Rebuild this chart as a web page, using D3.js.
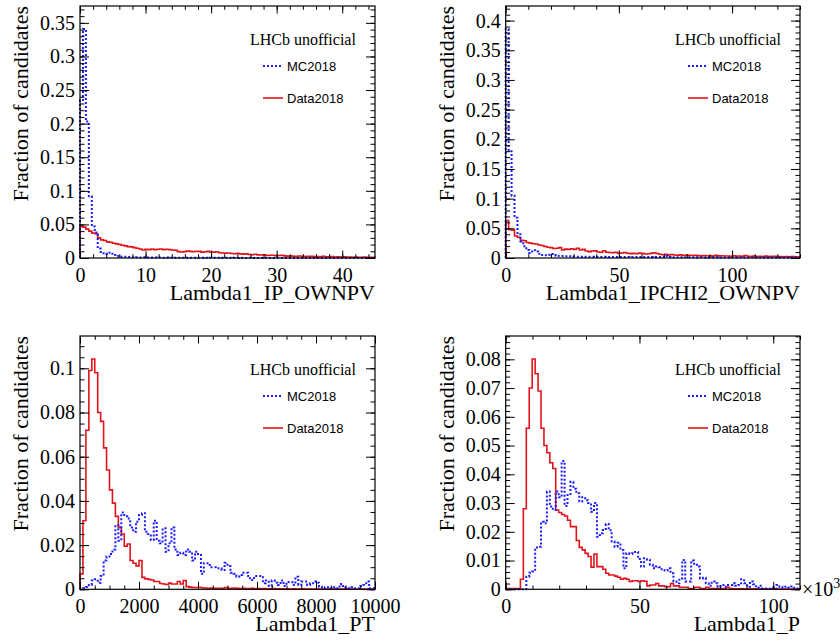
<!DOCTYPE html>
<html>
<head>
<meta charset="utf-8">
<script src="https://cdn.jsdelivr.net/npm/d3@7"></script>
<style>
  body { margin: 0; background: #fff; }
  svg { display: block; }
</style>
</head>
<body>
<svg id="chart" width="840" height="642"></svg>
<script>
// Normalised histograms (fraction of candidates per bin), 100 bins each.
const ipMC = [
  0.235, 0.341, 0.203, 0.092, 0.047, 0.038, 0.014, 0.009, 0.007, 0.006,
  0.008, 0.0045, 0.003, 0.002, 0.002, 0.0018, 0.0015, 0.0012, 0.001, 0.0012,
  0.0009, 0.001, 0.0008, 0.0009, 0.0007, 0.0008, 0.0006, 0.0007, 0.0005, 0.0006,
  0.0005, 0.0004, 0.0005, 0.0004, 0.0004, 0.0003, 0.0004, 0.0003, 0.0003, 0.0004,
  0.0003, 0.0002, 0.0003, 0.0002, 0.0003, 0.0002, 0.0002, 0.0003, 0.0002, 0.0002,
  0.0002, 0.0001, 0.0002, 0.0001, 0.0002, 0.0001, 0.0001, 0.0002, 0.0001, 0.0001,
  0.0001, 0.0001, 0.0002, 0.0001, 0.0001, 0.0001, 0.0001, 0.0001, 0.0001, 0.0001,
  0.0001, 0.0001, 0.0001, 0.0001, 0.0001, 0.0001, 0.0001, 0.0001, 0.0001, 0.0001,
  0.0001, 0.0001, 0.0001, 0.0001, 0.0001, 0.0001, 0.0001, 0.0001, 0.0001, 0.0001,
  0.0001, 0.0001, 0.0001, 0.0001, 0.0001, 0.0001, 0.0001, 0.0001, 0.0001, 0.0001
];
const ipData = [
  0.047, 0.046, 0.043, 0.040, 0.037, 0.036, 0.030, 0.027, 0.026, 0.024,
  0.0235, 0.022, 0.021, 0.020, 0.019, 0.018, 0.017, 0.0165, 0.0155, 0.0145,
  0.0135, 0.012, 0.013, 0.0125, 0.0135, 0.0125, 0.013, 0.0135, 0.0125, 0.013,
  0.0125, 0.012, 0.0115, 0.0095, 0.009, 0.0095, 0.0102, 0.0098, 0.0092, 0.010,
  0.0098, 0.0088, 0.0092, 0.0098, 0.0085, 0.0087, 0.0092, 0.0078, 0.0075, 0.0073,
  0.0075, 0.0066, 0.0064, 0.007, 0.0062, 0.0058, 0.0062, 0.0052, 0.0048, 0.0056,
  0.0047, 0.0044, 0.0046, 0.0038, 0.0042, 0.004, 0.0034, 0.0038, 0.0042, 0.0032,
  0.0028, 0.0032, 0.0027, 0.0025, 0.003, 0.0026, 0.0022, 0.0026, 0.0024, 0.002,
  0.0022, 0.0018, 0.0024, 0.0018, 0.0016, 0.002, 0.0015, 0.0017, 0.0014, 0.0018,
  0.0013, 0.0015, 0.0012, 0.0016, 0.0012, 0.0011, 0.0014, 0.001, 0.0012, 0.0009
];
const ipchi2MC = [
  0.386, 0.18, 0.105, 0.068, 0.040, 0.028, 0.020, 0.0135, 0.0085, 0.013,
  0.011, 0.007, 0.005, 0.0045, 0.0055, 0.0067, 0.005, 0.004, 0.0034, 0.0034,
  0.003, 0.0028, 0.0025, 0.0024, 0.0022, 0.002, 0.0021, 0.002, 0.0019, 0.002,
  0.0018, 0.0018, 0.0017, 0.0019, 0.0018, 0.0017, 0.0018, 0.0016, 0.0017, 0.0018,
  0.0016, 0.0016, 0.0015, 0.0017, 0.0016, 0.0015, 0.0016, 0.0015, 0.0016, 0.0015,
  0.0014, 0.0015, 0.0016, 0.0022, 0.0034, 0.0016, 0.0014, 0.0013, 0.0014, 0.0012,
  0.0012, 0.0011, 0.0012, 0.0011, 0.0011, 0.001, 0.0011, 0.001, 0.0011, 0.001,
  0.001, 0.0011, 0.001, 0.0009, 0.001, 0.0009, 0.001, 0.0009, 0.0009, 0.001,
  0.0009, 0.0009, 0.0008, 0.0009, 0.0009, 0.0008, 0.0009, 0.0008, 0.0008, 0.0009,
  0.0008, 0.0008, 0.0008, 0.0007, 0.0008, 0.0008, 0.0007, 0.0008, 0.0007, 0.0007
];
const ipchi2Data = [
  0.063, 0.048, 0.047, 0.037, 0.035, 0.030, 0.029, 0.026, 0.025, 0.024,
  0.0235, 0.022, 0.021, 0.0195, 0.018, 0.0175, 0.016, 0.0165, 0.0175, 0.0135,
  0.015, 0.0145, 0.0155, 0.0145, 0.0165, 0.0135, 0.0145, 0.0118, 0.0108, 0.0118,
  0.012, 0.0102, 0.0098, 0.0122, 0.0098, 0.0092, 0.0088, 0.0096, 0.008, 0.0084,
  0.0092, 0.008, 0.0074, 0.0078, 0.0072, 0.0082, 0.0078, 0.0068, 0.0072, 0.0078,
  0.0088, 0.0076, 0.0062, 0.0055, 0.0062, 0.0052, 0.0058, 0.005, 0.0046, 0.0052,
  0.0042, 0.0048, 0.0045, 0.0043, 0.0044, 0.004, 0.0036, 0.0042, 0.0038, 0.0035,
  0.0032, 0.0045, 0.0036, 0.0038, 0.0034, 0.0033, 0.003, 0.0037, 0.0032, 0.0033,
  0.0029, 0.0042, 0.003, 0.0028, 0.0031, 0.0025, 0.003, 0.0026, 0.0032, 0.0024,
  0.0027, 0.0028, 0.0024, 0.0026, 0.0021, 0.0025, 0.002, 0.0026, 0.0022, 0.002
];
const ptMC = [
  0.0003, 0.0005, 0.001, 0.002, 0.004, 0.0045, 0.003, 0.006, 0.013, 0.0148,
  0.016, 0.018, 0.029, 0.022, 0.0347, 0.033, 0.032, 0.028, 0.026, 0.0306,
  0.0336, 0.0344, 0.026, 0.025, 0.0223, 0.031, 0.022, 0.0208, 0.0276, 0.017,
  0.0208, 0.028, 0.018, 0.0155, 0.0165, 0.0155, 0.018, 0.017, 0.013, 0.017,
  0.016, 0.007, 0.0118, 0.0118, 0.010, 0.010, 0.0095, 0.0095, 0.0087, 0.012,
  0.0105, 0.0075, 0.007, 0.0057, 0.0065, 0.0075, 0.0075, 0.005, 0.0042, 0.006,
  0.006, 0.006, 0.0027, 0.004, 0.0015, 0.004, 0.003, 0.002, 0.004, 0.0015,
  0.0033, 0.0033, 0.002, 0.0057, 0.002, 0.0035, 0.0035, 0.002, 0.0027, 0.0035,
  0.003, 0.0012, 0.0005, 0.0009, 0.0009, 0.0005, 0.0009, 0.0005, 0.0024, 0.0015,
  0.0005, 0.0005, 0.0009, 0.0005, 0.0005, 0.0015, 0.002, 0.0035, 0.0005, 0.0005
];
const ptData = [
  0.007, 0.031, 0.072, 0.099, 0.1042, 0.098, 0.080, 0.076, 0.064, 0.054,
  0.045, 0.039, 0.033, 0.028, 0.025, 0.0195, 0.0205, 0.013, 0.0118, 0.0106,
  0.013, 0.0054, 0.0047, 0.0045, 0.0042, 0.0035, 0.0035, 0.0026, 0.0024, 0.0022,
  0.0028, 0.0024, 0.0024, 0.0035, 0.0024, 0.004, 0.0012, 0.001, 0.0008, 0.0008,
  0.0009, 0.0007, 0.0006, 0.0005, 0.0006, 0.0005, 0.0004, 0.0005, 0.0004, 0.0008,
  0.0005, 0.0004, 0.0006, 0.0004, 0.0003, 0.0004, 0.0003, 0.0003, 0.0004, 0.0002,
  0.0003, 0.0002, 0.0003, 0.0002, 0.0002, 0.0003, 0.0002, 0.0002, 0.0002, 0.0001,
  0.0002, 0.0001, 0.0002, 0.0001, 0.0001, 0.0002, 0.0001, 0.0001, 0.0001, 0.0001,
  0.0001, 0.0001, 0.0001, 0.0001, 0.0001, 0.0001, 0.0001, 0.0001, 0.0001, 0.0001,
  0.0001, 0.0001, 0.0001, 0.0001, 0.0001, 0.0001, 0.0001, 0.0001, 0.0001, 0.0001
];
const pMC = [
  0, 0, 0, 0, 0, 0, 0, 0.0044, 0.0058, 0.0062,
  0.0145, 0.0148, 0.0235, 0.023, 0.034, 0.0288, 0.0276, 0.034, 0.032, 0.0446,
  0.029, 0.0328, 0.0374, 0.035, 0.0334, 0.0305, 0.032, 0.031, 0.030, 0.027,
  0.030, 0.0183, 0.0195, 0.0206, 0.0227, 0.0205, 0.0166, 0.0148, 0.0162, 0.0137,
  0.0073, 0.0125, 0.0123, 0.0125, 0.013, 0.0105, 0.0079, 0.0108, 0.0103, 0.0085,
  0.0073, 0.0079, 0.0077, 0.007, 0.0065, 0.0073, 0.0056, 0.0027, 0.0021, 0.0038,
  0.0102, 0.0027, 0.0027, 0.010, 0.0085, 0.0079, 0.0038, 0.004, 0.0021, 0.0012,
  0.0027, 0.0021, 0.0009, 0.0015, 0.0009, 0.0015, 0.0015, 0.0021, 0.0012, 0.0015,
  0.0035, 0.0021, 0.0009, 0.0027, 0.0018, 0.0006, 0.0012, 0.0003, 0.0003, 0.0003,
  0.0006, 0.0003, 0.0015, 0.0009, 0.0006, 0.0009, 0.0006, 0.001, 0.0003, 0.0003
];
const pData = [
  0.0003, 0.0003, 0.0003, 0.0003, 0.0003, 0.0035, 0.028, 0.056, 0.070, 0.0801,
  0.075, 0.069, 0.056, 0.050, 0.0475, 0.044, 0.042, 0.0276, 0.0267, 0.026,
  0.0255, 0.024, 0.0218, 0.0218, 0.017, 0.0146, 0.0137, 0.0125, 0.0114, 0.0077,
  0.0123, 0.0079, 0.0079, 0.007, 0.0056, 0.005, 0.005, 0.0046, 0.0042, 0.0035,
  0.0038, 0.0035, 0.0027, 0.003, 0.003, 0.0027, 0.003, 0.0028, 0.0012, 0.0015,
  0.0015, 0.002, 0.0012, 0.0012, 0.0009, 0.0009, 0.002, 0.0012, 0.0012, 0.0007,
  0.0007, 0.0007, 0.0003, 0.0003, 0.0007, 0.0007, 0.0003, 0.0003, 0.0007, 0.0003,
  0.0003, 0.0002, 0.0003, 0.0002, 0.0003, 0.0007, 0.0003, 0.0002, 0.0002, 0.0002,
  0.0002, 0.0001, 0.0002, 0.0001, 0.0002, 0.0001, 0.0001, 0.0002, 0.0001, 0.0001,
  0.0001, 0.0001, 0.0001, 0.0001, 0.0001, 0.0001, 0.0001, 0.0001, 0.0001, 0.0001
];

// Axis titles and legend texts
const xTitles = ["Lambda1_IP_OWNPV", "Lambda1_IPCHI2_OWNPV", "Lambda1_PT", "Lambda1_P"];
const yTitle = "Fraction of candidates";
const seriesNames = ["MC2018", "Data2018"];
const stampText = "LHCb unofficial";

// Per-pad histogram ranges and tick spacing
const panels = [
  { mc: ipMC,     data: ipData,     xmax: 45,     xMajor: 10,    xMinor: 2,     yMajor: 0.05, yMinor: 0.01,  xFmt: d => d3.format("~g")(d) },
  { mc: ipchi2MC, data: ipchi2Data, xmax: 130,    xMajor: 50,    xMinor: 10,    yMajor: 0.05, yMinor: 0.01,  xFmt: d => d3.format("~g")(d) },
  { mc: ptMC,     data: ptData,     xmax: 10000,  xMajor: 2000,  xMinor: 500,   yMajor: 0.02, yMinor: 0.005, xFmt: d => d3.format("~g")(d) },
  { mc: pMC,      data: pData,      xmax: 110000, xMajor: 50000, xMinor: 10000, yMajor: 0.01, yMinor: 0.002, xFmt: d => d3.format("~g")(d / 1000), exponent: "3" }
];

// Pad frames (pixels)
const frames = [
  { x: 80,    y: 6,   w: 295,   h: 252 },
  { x: 505.7, y: 6,   w: 294.3, h: 252 },
  { x: 80,    y: 336, w: 295,   h: 253.3 },
  { x: 505.7, y: 336, w: 294.3, h: 253.3 }
];

const SERIF = "Liberation Serif, Times New Roman, serif";
const SANS = "Liberation Sans, Arial, Helvetica, sans-serif";
const RED = "#e3121a";
const BLUE = "#1a1aff";
const NBINS = 100;

const svg = d3.select("#chart");
svg.append("rect").attr("width", 840).attr("height", 642).attr("fill", "#fff");

function range(step, max) {
  return d3.range(0, max + step * 1e-6, step);
}

panels.forEach((p, k) => {
  const f = frames[k];
  const g = svg.append("g").attr("transform", `translate(${f.x},${f.y})`);
  const x = d3.scaleLinear().domain([0, p.xmax]).range([0, f.w]);
  const ymax = 1.1 * d3.max(p.mc.concat(p.data));
  const y = d3.scaleLinear().domain([0, ymax]).range([f.h, 0]);
  const bw = p.xmax / NBINS;

  const stepLine = d3.line().x(d => x(d[0])).y(d => y(d[1]));
  const stepPoints = vals => {
    const pts = [[0, 0]];
    vals.forEach((v, i) => { pts.push([i * bw, v]); pts.push([(i + 1) * bw, v]); });
    pts.push([p.xmax, 0]);
    return pts;
  };

  // Histograms
  g.append("path").attr("d", stepLine(stepPoints(p.data)))
    .attr("fill", "none").attr("stroke", RED).attr("stroke-width", 1.6);
  g.append("path").attr("d", stepLine(stepPoints(p.mc)))
    .attr("fill", "none").attr("stroke", BLUE).attr("stroke-width", 2)
    .attr("stroke-dasharray", "2,2");

  // Ticks on all four sides, pointing into the frame
  const xMaj = range(p.xMajor, p.xmax), xMin = range(p.xMinor, p.xmax);
  const yMaj = range(p.yMajor, ymax), yMin = range(p.yMinor, ymax);
  const tickStyle = sel => {
    sel.select(".domain").remove();
    sel.selectAll("line").attr("stroke", "#000").attr("stroke-width", 1);
  };

  // bottom
  g.append("g").attr("transform", `translate(0,${f.h})`)
    .call(d3.axisBottom(x).tickValues(xMin).tickFormat("").tickSizeInner(-3.8).tickSizeOuter(0)).call(tickStyle);
  const bx = g.append("g").attr("transform", `translate(0,${f.h})`)
    .call(d3.axisBottom(x).tickValues(xMaj).tickFormat(p.xFmt).tickSizeInner(-7.5).tickSizeOuter(0).tickPadding(9.5))
    .call(tickStyle);
  bx.attr("font-family", SERIF).attr("font-size", 20);
  bx.selectAll("text").style("font-family", SERIF).style("font-size", "20px").attr("fill", "#000");
  // top
  g.append("g").call(d3.axisTop(x).tickValues(xMin).tickFormat("").tickSizeInner(-3.8).tickSizeOuter(0)).call(tickStyle);
  g.append("g").call(d3.axisTop(x).tickValues(xMaj).tickFormat("").tickSizeInner(-7.5).tickSizeOuter(0)).call(tickStyle);
  // left
  g.append("g").call(d3.axisLeft(y).tickValues(yMin).tickFormat("").tickSizeInner(-4.5).tickSizeOuter(0)).call(tickStyle);
  const ly = g.append("g")
    .call(d3.axisLeft(y).tickValues(yMaj).tickFormat(d3.format("~g")).tickSizeInner(-9).tickSizeOuter(0).tickPadding(5))
    .call(tickStyle);
  ly.attr("font-family", SERIF).attr("font-size", 20);
  ly.selectAll("text").style("font-family", SERIF).style("font-size", "20px").attr("fill", "#000");
  // right
  g.append("g").attr("transform", `translate(${f.w},0)`)
    .call(d3.axisRight(y).tickValues(yMin).tickFormat("").tickSizeInner(-4.5).tickSizeOuter(0)).call(tickStyle);
  g.append("g").attr("transform", `translate(${f.w},0)`)
    .call(d3.axisRight(y).tickValues(yMaj).tickFormat("").tickSizeInner(-9).tickSizeOuter(0)).call(tickStyle);

  // Frame
  g.append("rect").attr("width", f.w).attr("height", f.h)
    .attr("fill", "none").attr("stroke", "#000").attr("stroke-width", 1.2);

  // Axis titles, right-aligned at the end of each axis
  g.append("text").attr("x", f.w).attr("y", f.h + 42)
    .attr("text-anchor", "end").style("font-family", SERIF).style("font-size", "22px")
    .text(xTitles[k]);
  g.append("text").attr("transform", `translate(${-52},0) rotate(-90)`)
    .attr("text-anchor", "end").style("font-family", SERIF).style("font-size", "22px")
    .text(yTitle);

  // Exponent of the x axis
  if (p.exponent) {
    const t = g.append("text").attr("x", f.w + 2).attr("y", f.h + 7)
      .style("font-family", SERIF).style("font-size", "20px");
    t.append("tspan").text("\u00d710");
    t.append("tspan").attr("dy", -8).style("font-size", "14px").text(p.exponent);
  }

  // Legend
  const lx = f.w - 125;
  g.append("text").attr("x", lx).attr("y", 39)
    .style("font-family", SERIF).style("font-size", "16px").text(stampText);
  [[BLUE, "2,2", 2, seriesNames[0], 60], [RED, null, 1.6, seriesNames[1], 92]].forEach(([c, dash, w, name, yy]) => {
    g.append("line").attr("x1", lx + 13).attr("x2", lx + 33).attr("y1", yy).attr("y2", yy)
      .attr("stroke", c).attr("stroke-width", w).attr("stroke-dasharray", dash);
    g.append("text").attr("x", lx + 37).attr("y", yy).attr("dy", "0.35em")
      .style("font-family", SANS).style("font-size", "13px").text(name);
  });
});
</script>
</body>
</html>
